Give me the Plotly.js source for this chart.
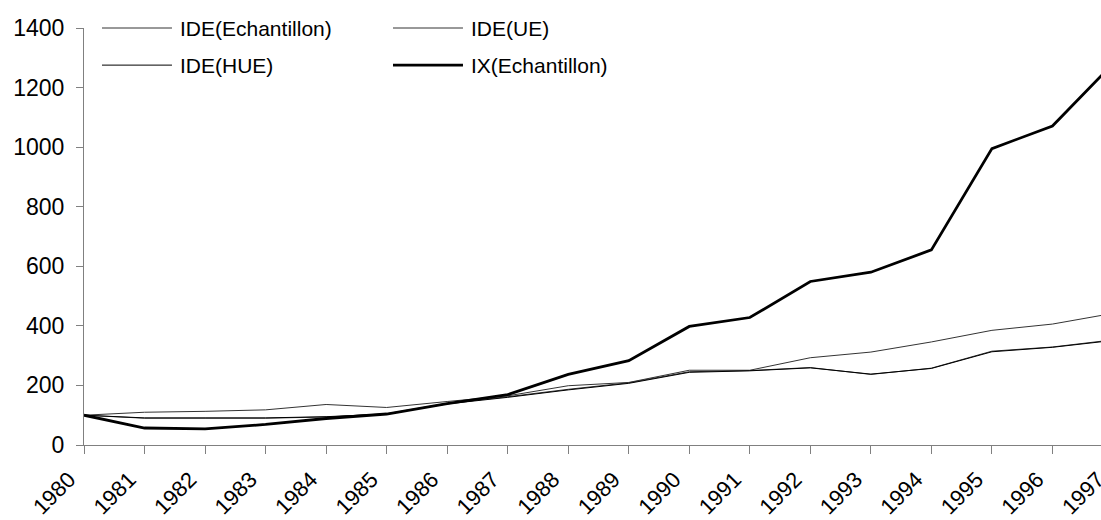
<!DOCTYPE html>
<html>
<head>
<meta charset="utf-8">
<script src="https://cdn.plot.ly/plotly-3.0.1.min.js"></script>
<style>
html, body { margin: 0; padding: 0; overflow: hidden; background: #fff; }
#chart { width: 1115px; height: 520px; }
</style>
</head>
<body>
<div id="chart"></div>
<script>
var years = [1980, 1981, 1982, 1983, 1984, 1985, 1986, 1987, 1988, 1989, 1990, 1991, 1992, 1993, 1994, 1995, 1996, 1997];
var seriesNames = ["IDE(Echantillon)", "IDE(UE)", "IDE(HUE)", "IX(Echantillon)"];
var ideEchantillon = [100, 90, 90, 90, 94, 105, 140, 162, 187, 209, 246, 250, 260, 237, 258, 315, 329, 353];
var ideUE = [100, 110, 113, 118, 136, 126, 146, 165, 199, 210, 251, 251, 293, 312, 346, 385, 406, 442];
var ideHUE = [100, 91, 91, 91, 95, 104, 138, 160, 185, 207, 244, 249, 259, 238, 257, 313, 328, 351];
var ixEchantillon = [100, 57, 54, 69, 89, 104, 139, 169, 237, 283, 398, 428, 549, 580, 655, 995, 1071, 1280];
var yTicks = [0, 200, 400, 600, 800, 1000, 1200, 1400];

var seriesValues = [ideEchantillon, ideUE, ideHUE, ixEchantillon];
var seriesColors = ["#333333", "#333333", "#000000", "#000000"];
var seriesWidths = [1, 1, 1, 2.8];

var font = "Liberation Sans, Arial, sans-serif";

var traces = seriesValues.map(function (vals, i) {
  return {
    x: years, y: vals, type: "scatter", mode: "lines", name: seriesNames[i],
    line: { color: seriesColors[i], width: seriesWidths[i] },
    showlegend: false, hoverinfo: "x+y+name"
  };
});

// manual legend (2 columns x 2 rows), positioned in paper coordinates
var legendPos = [
  { x0: 0.0175, y: 1.0 },
  { x0: 0.3003, y: 1.0 },
  { x0: 0.0175, y: 0.911 },
  { x0: 0.3003, y: 0.911 }
];
var shapes = [];
var annotations = [];
legendPos.forEach(function (p, i) {
  shapes.push({
    type: "line", xref: "paper", yref: "paper",
    x0: p.x0, x1: p.x0 + 0.068, y0: p.y, y1: p.y,
    line: { color: seriesColors[i], width: seriesWidths[i] }
  });
  annotations.push({
    xref: "paper", yref: "paper", x: p.x0 + 0.0735, y: p.y,
    xanchor: "left", yanchor: "middle", showarrow: false,
    text: seriesNames[i], font: { family: font, size: 21, color: "#000" }
  });
});

var layout = {
  width: 1115, height: 520,
  margin: { l: 84, r: 2, t: 28, b: 75 },
  paper_bgcolor: "#fff", plot_bgcolor: "#fff",
  font: { family: font, size: 23, color: "#000" },
  showlegend: false,
  xaxis: {
    type: "linear", range: [1979.9995, 1997.0005], tickmode: "array", tickvals: years,
    ticktext: years.map(String), tickangle: -45,
    ticklabelshift: -15, ticklabelstandoff: 4,
    showline: true, linecolor: "#808080", linewidth: 1,
    ticks: "outside", ticklen: 8, tickcolor: "#808080", tickwidth: 1,
    showgrid: false, zeroline: false,
    tickfont: { family: font, size: 22, color: "#000" }
  },
  yaxis: {
    range: [0, 1400], tickmode: "array", tickvals: yTicks,
    ticklabelstandoff: 7,
    showline: true, linecolor: "#808080", linewidth: 1,
    ticks: "outside", ticklen: 7, tickcolor: "#808080", tickwidth: 1,
    showgrid: false, zeroline: false,
    tickfont: { family: font, size: 23, color: "#000" }
  },
  shapes: shapes,
  annotations: annotations
};

Plotly.newPlot("chart", traces, layout, { displayModeBar: false, staticPlot: true });
</script>
</body>
</html>
